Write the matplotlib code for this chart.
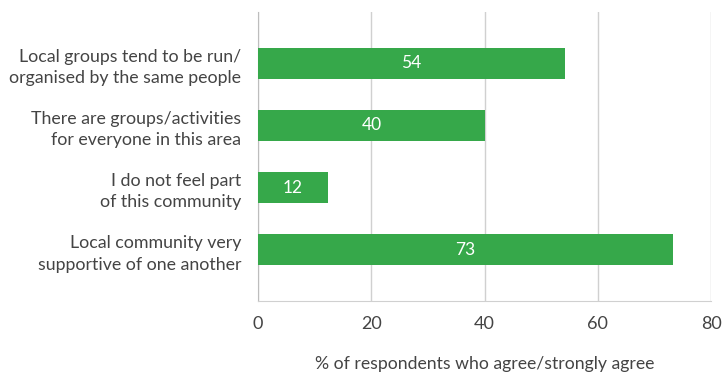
import matplotlib
matplotlib.use('Agg')
import matplotlib.pyplot as plt

categories = [
    'Local groups tend to be run/\norganised by the same people',
    'There are groups/activities\nfor everyone in this area',
    'I do not feel part\nof this community',
    'Local community very\nsupportive of one another',
]
values = [54.2, 40.1, 12.4, 73.3]
x_ticks = [0, 20, 40, 60, 80]
x_label = '% of respondents who agree/strongly agree'

plt.rcParams['font.family'] = ['Lato', 'DejaVu Sans']
text_color = '#444444'
bar_color = '#36a84a'

fig = plt.figure(figsize=(7.24, 3.76), dpi=100)
ax = fig.add_axes([258 / 724, 1 - 301 / 376, (711 - 258) / 724, (301 - 12) / 376])

pos = list(range(len(categories)))[::-1]
bars = ax.barh(pos, values, height=0.5, color=bar_color, zorder=3)
for b, v in zip(bars, values):
    ax.text(b.get_width() / 2, b.get_y() + b.get_height() / 2, str(round(v)),
            ha='center', va='center', color='white', fontsize=12.5, zorder=4)

ax.set_xlim(0, 80)
ax.set_ylim(-0.82, 3.82)
ax.set_xticks(x_ticks)
ax.set_yticks(pos)
ax.set_yticklabels(categories, fontsize=12.8, color=text_color, linespacing=1.4)
ax.tick_params(axis='x', labelsize=13, colors=text_color, length=0, pad=11)
ax.tick_params(axis='y', length=0, pad=12)
ax.grid(axis='x', color='#d0d0d0', linewidth=1, zorder=0)
for s in ['top', 'right']:
    ax.spines[s].set_visible(False)
ax.spines['bottom'].set_color('#d0d0d0')
ax.spines['left'].set_color('#bdbdbd')
ax.set_xlabel(x_label, fontsize=12.7, color=text_color, labelpad=17)

fig.savefig('out.png', dpi=100)
